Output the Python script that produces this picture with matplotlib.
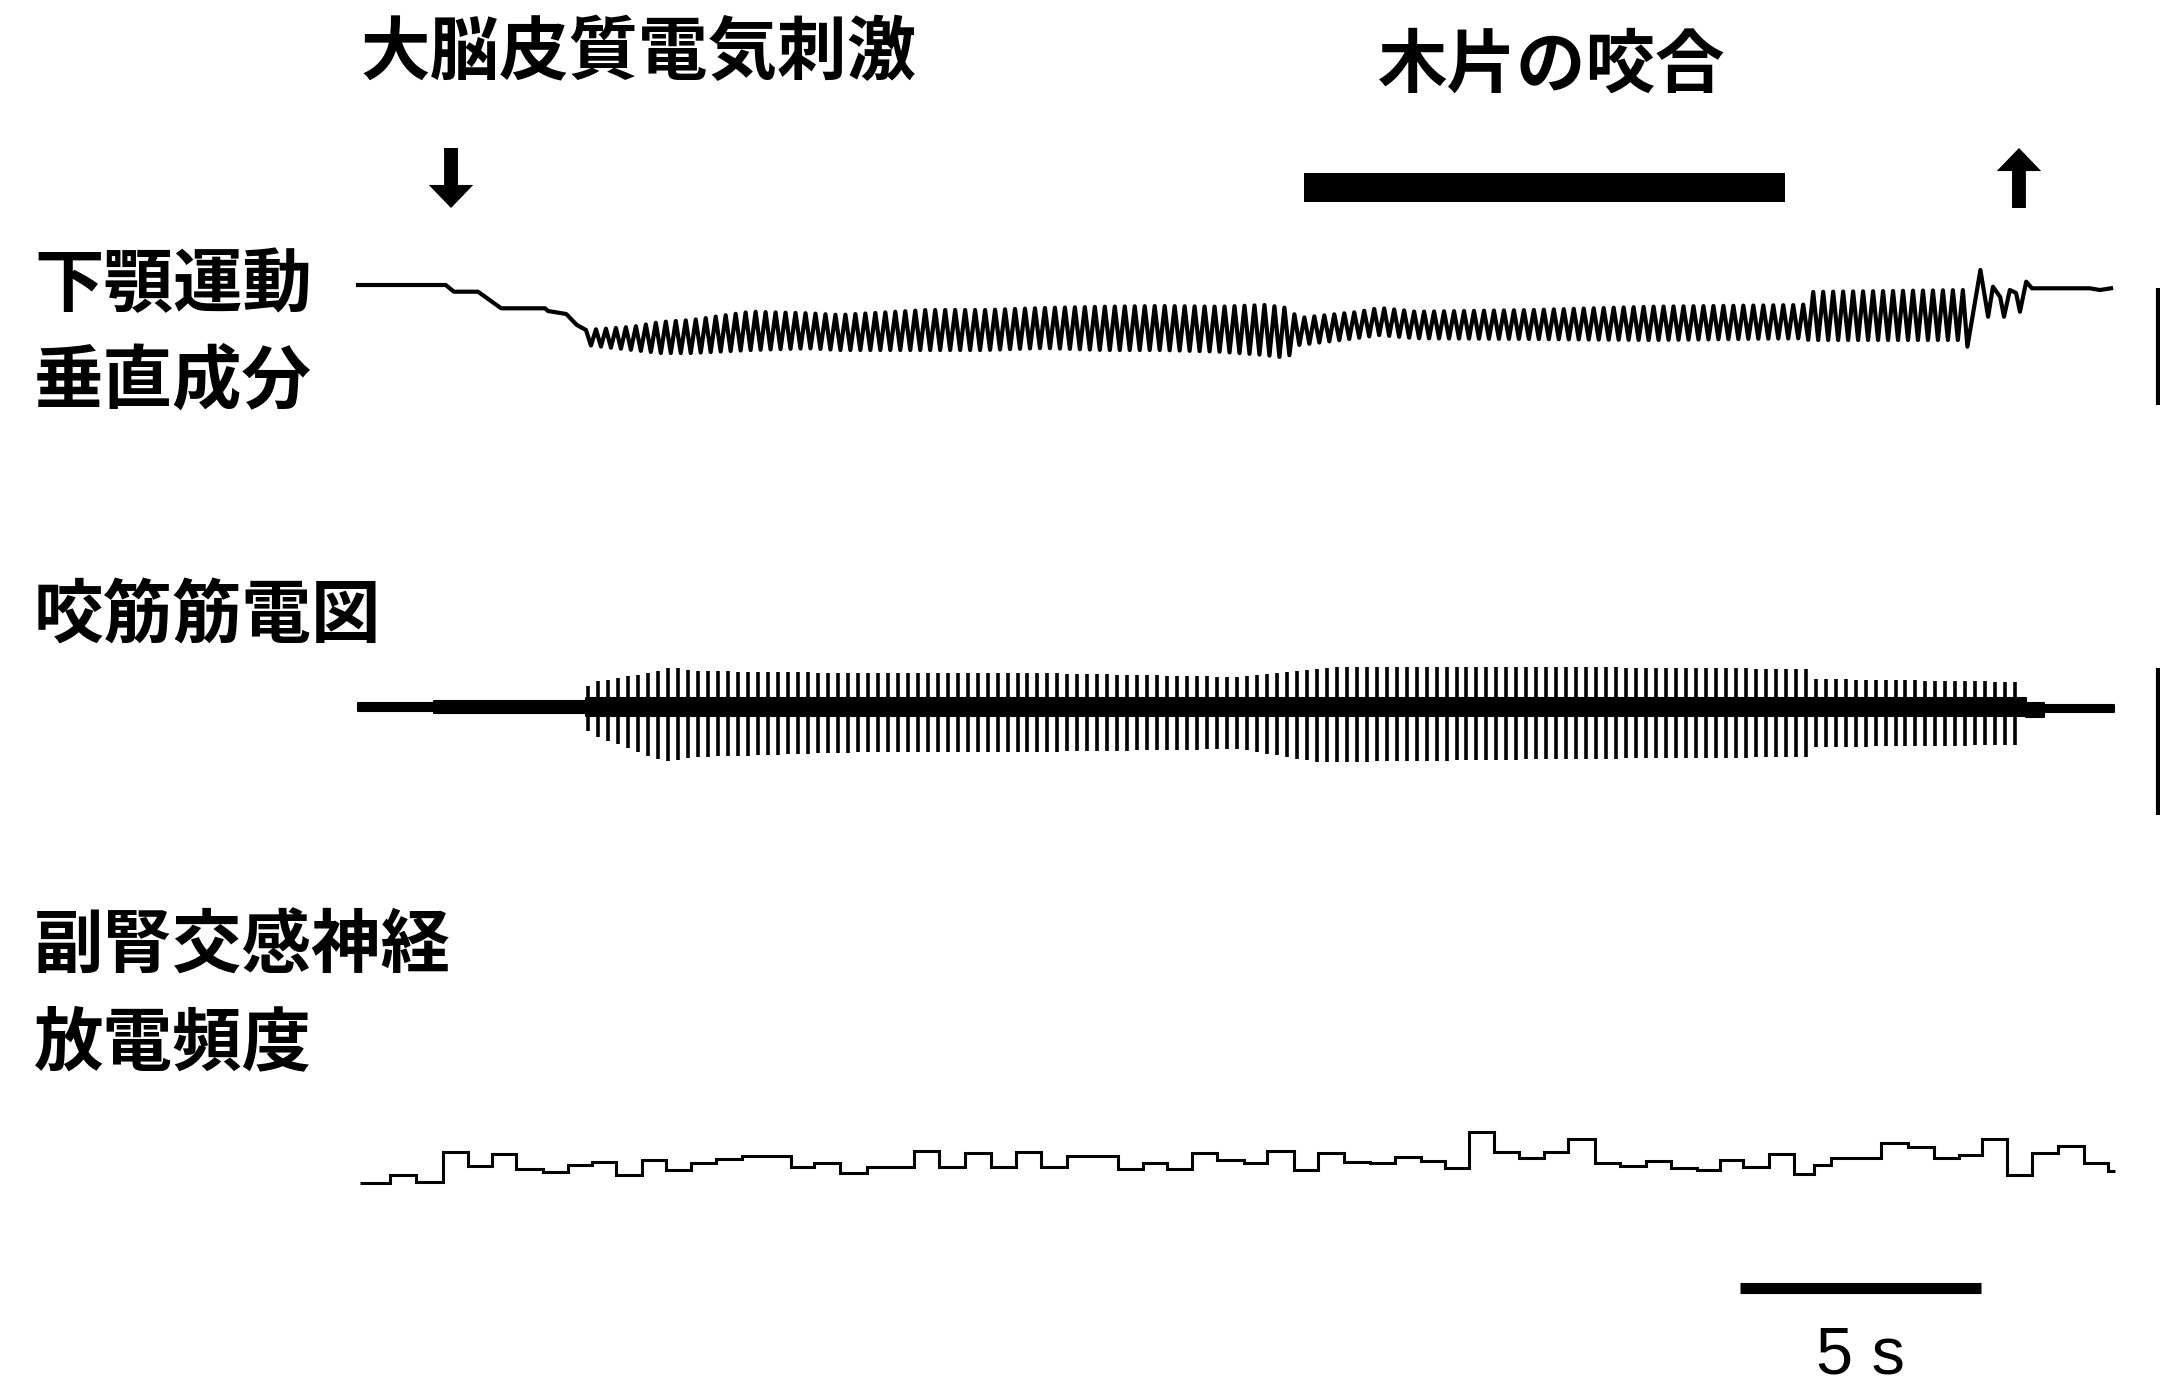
import numpy as np
import matplotlib
matplotlib.use("Agg")
import matplotlib.pyplot as plt

plt.rcParams["font.family"] = ["Noto Sans CJK JP", "DejaVu Sans"]

# ---- event timing (s), time zero = start of the traces
stim_on_s = 1.93
stim_off_s = 34.46
bite_on_s = 19.63
bite_off_s = 29.60
scale_bar_s = 5.0
scale_bar_start_s = 28.67

# ---- jaw movement, vertical component (a.u., up = positive)
jaw_base_t = [0.00, 1.82, 1.99, 2.49, 2.97, 3.88, 3.94, 4.32, 4.54, 4.73]
jaw_base_v = [0, 0, -6.7, -6.7, -23.3, -23.3, -26, -29, -40, -45]

chew_start_s = 4.73
chew_end_s = 33.39
chew_period_s = 0.207
jaw_env_t = [4.73, 5.71, 6.27, 6.93, 8.15, 9.36, 9.98, 11.80, 13.01, 14.23, 15.46, 16.66,
             17.88, 18.82, 19.27, 19.52, 20.73, 21.20, 21.95, 24.38, 26.83, 29.98, 30.10, 33.39]
jaw_env_top = [-45, -41.7, -37, -35, -26.7, -28.3, -30, -25, -25, -23, -21.7, -21,
               -21.7, -20, -23, -33, -27, -23, -26.7, -25, -21.7, -20, -7, -5]
jaw_env_bot = [-60, -65, -68, -68, -65, -63.3, -65, -65, -65, -63, -65, -65,
               -66.7, -70, -73, -60, -53, -50, -53.3, -54, -55, -53.3, -55, -55]

jaw_end_t = [33.39, 33.66, 33.82, 33.92, 34.07, 34.15, 34.27, 34.40, 34.48, 34.61, 34.73, 35.93, 36.14, 36.37]
jaw_end_v = [-61.7, 15, -31.7, -1.7, -12, -31.7, -5, -8, -26.7, 3.3, -3.3, -3.3, -5, -3.3]

# ---- masseter EMG (a.u.)
emg_band_t = [0.00, 1.58, 1.58, 4.73, 4.73, 34.61, 34.61, 34.97, 34.97, 36.43]
emg_band_hi = [4, 4, 6, 6, 9, 9, 4, 4, 2.5, 2.5]
emg_band_lo = [-3.5, -3.5, -6, -6, -9, -9, -10, -10, -5, -5]

emg_spk_t = [4.73, 5.0, 6.08, 6.5, 6.93, 8.5, 10.58, 14.0, 18.3, 19.9, 20.3, 25.0, 30.1, 30.2, 34.61]
emg_spk_up = [20, 26, 34, 40, 36, 35, 34, 34, 30, 38, 40, 40, 38, 28, 25]
emg_spk_dn = [-23, -30, -50, -55, -50, -48, -45, -45, -42, -55, -55, -52, -50, -40, -38]

# ---- adrenal sympathetic nerve discharge rate (a.u., ~0.5 s bins)
sym_edges_t = [0.05, 0.66, 1.21, 1.76, 2.28, 2.79, 3.28, 3.83, 4.35, 4.86, 5.35, 5.90,
               6.38, 6.91, 7.42, 7.97, 8.46, 8.98, 9.46, 10.01, 10.56, 11.04, 11.53, 12.05,
               12.59, 13.14, 13.65, 14.18, 14.70, 15.23, 15.76, 16.28, 16.79, 17.31, 17.83, 18.38,
               18.85, 19.42, 19.92, 20.46, 21.00, 21.52, 22.05, 22.56, 23.05, 23.56, 24.08, 24.61,
               25.11, 25.66, 26.18, 26.72, 27.24, 27.77, 28.26, 28.74, 29.27, 29.80, 30.20, 30.57,
               31.08, 31.59, 32.15, 32.69, 33.21, 33.70, 34.22, 34.73, 35.28, 35.80, 36.31, 36.46]
sym_rate = [6.7, 15, 8.3, 38.3, 24, 35.7, 20.7, 18.3, 25, 28.3, 15, 30,
            20, 26.7, 30.7, 34.3, 34.3, 23.3, 27.3, 17.3, 22.7, 22.7, 39.3, 22.7,
            36.7, 22.7, 38.3, 22.7, 34.3, 34.3, 20.7, 27.3, 20.7, 36.7, 30, 27.3,
            39, 20, 36.7, 28.3, 26.7, 33.3, 29.3, 21.7, 58.3, 38.3, 31.7, 38.3,
            50.7, 27.3, 24, 29.3, 22.3, 20, 30, 22.7, 35.7, 15.7, 25, 31.7,
            31.7, 47.3, 43.3, 31.7, 35, 50.7, 15, 37.3, 44, 27.3, 19]

# ---- labels
title_stim = "大脳皮質電気刺激"
title_bite = "木片の咬合"
row_labels = [("下顎運動", 286), ("垂直成分", 382), ("咬筋筋電図", 616),
              ("副腎交感神経", 947), ("放電頻度", 1044)]

W, H = 2160, 1389
px_per_s = 48.2
x0_px = 358
xlim = (-x0_px / px_per_s, (W - x0_px) / px_per_s)


def band(top_px, bot_px):
    return [0, 1 - bot_px / H, 1, (bot_px - top_px) / H]


def bare(ax):
    ax.set_xlim(xlim)
    ax.axis("off")
    ax.patch.set_alpha(0)


fig = plt.figure(figsize=(W / 100, H / 100), dpi=100)
fig.patch.set_facecolor("white")

# jaw trace
ax_jaw = fig.add_axes(band(230, 390))
bare(ax_jaw)
ax_jaw.set_ylim(-105, 55)
n_half = int((chew_end_s - chew_start_s) / (chew_period_s / 2))
k = np.arange(n_half + 1)
t_half = chew_start_s + k * chew_period_s / 2
v_half = np.where(k % 2 == 0,
                  np.interp(t_half, jaw_env_t, jaw_env_top),
                  np.interp(t_half, jaw_env_t, jaw_env_bot))
jaw_t = np.concatenate([jaw_base_t, t_half[1:], jaw_end_t])
jaw_v = np.concatenate([jaw_base_v, v_half[1:], jaw_end_v])
ax_jaw.plot(jaw_t, jaw_v, color="black", lw=3.0, solid_joinstyle="round")

# EMG trace
ax_emg = fig.add_axes(band(630, 790))
bare(ax_emg)
ax_emg.set_ylim(-83, 77)
ax_emg.fill_between(emg_band_t, emg_band_lo, emg_band_hi, color="black", lw=1.5)
n_burst = int((chew_end_s + 1.2 - chew_start_s) / chew_period_s)
t_burst = chew_start_s + (np.arange(n_burst) + 0.25) * chew_period_s
t_burst = t_burst[t_burst < emg_spk_t[-1]]
ax_emg.vlines(t_burst, np.interp(t_burst, emg_spk_t, emg_spk_dn),
              np.interp(t_burst, emg_spk_t, emg_spk_up), color="black", lw=2.6)

# sympathetic discharge trace
ax_sym = fig.add_axes(band(1100, 1220))
bare(ax_sym)
ax_sym.set_ylim(-30, 90)
ax_sym.stairs(sym_rate, sym_edges_t, baseline=None, color="black", lw=2.2)

# annotations in time / pixel-row coordinates
ax_ann = fig.add_axes([0, 0, 1, 1])
bare(ax_ann)
ax_ann.set_ylim(H, 0)

arrow_style = "simple,head_length=1.66,head_width=3.2,tail_width=1.0"
ax_ann.annotate("", xy=(stim_on_s, 208), xytext=(stim_on_s, 148),
                arrowprops=dict(arrowstyle=arrow_style, color="black", lw=0,
                                shrinkA=0, shrinkB=0, mutation_scale=10))
ax_ann.annotate("", xy=(stim_off_s, 148), xytext=(stim_off_s, 208),
                arrowprops=dict(arrowstyle=arrow_style, color="black", lw=0,
                                shrinkA=0, shrinkB=0, mutation_scale=10))
ax_ann.fill_between([bite_on_s, bite_off_s], 173, 202, color="black", lw=0)
ax_ann.plot([scale_bar_start_s, scale_bar_start_s + scale_bar_s], [1287.5, 1287.5],
            color="black", lw=8, solid_capstyle="butt")
ax_ann.text(scale_bar_start_s + scale_bar_s / 2, 1356, "5 s", ha="center", va="center",
            fontsize=48, family=["Liberation Sans", "DejaVu Sans"])

# calibration bars cut off at the right edge
ax_ann.vlines([(W - 2 - x0_px) / px_per_s] * 2, [288, 668], [405, 815], color="black", lw=3)

fig.text(360 / W, 1 - 54 / H, title_stim, ha="left", va="center", fontsize=50, weight="bold")
fig.text(1378 / W, 1 - 66 / H, title_bite, ha="left", va="center", fontsize=50, weight="bold")
for label, y_px in row_labels:
    fig.text(34 / W, 1 - y_px / H, label, ha="left", va="center", fontsize=50, weight="bold")

fig.savefig("out.png", dpi=100, facecolor="white")
